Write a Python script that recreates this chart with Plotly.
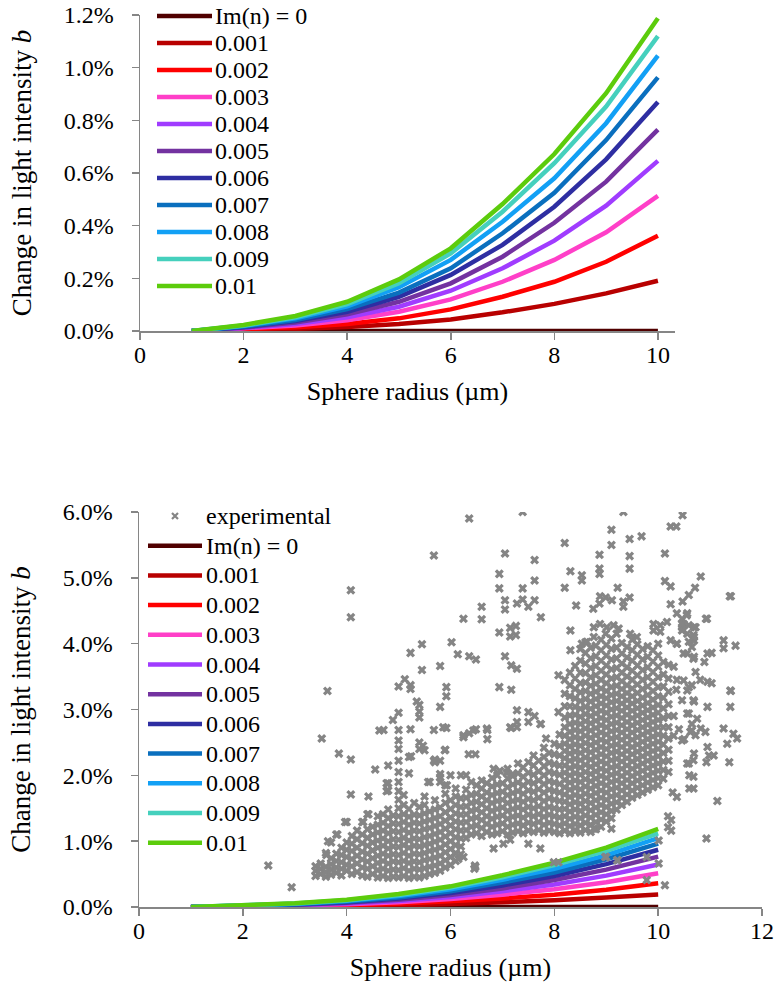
import plotly.graph_objects as go

# ---------------- data ----------------
radius = [1, 2, 3, 4, 5, 6, 7, 8, 9, 10]
series_names = ["Im(n) = 0", "0.001", "0.002", "0.003", "0.004", "0.005",
                "0.006", "0.007", "0.008", "0.009", "0.01"]
series_colors = ["#500000", "#b80000", "#ff0000", "#ff3fc8", "#a03cff", "#7332a0",
                 "#2e2ea2", "#0a6fbe", "#12a0f5", "#45d0bd", "#5ccc0c"]
exp_name = "experimental"
exp_color = "#858585"

# change in light intensity b, in %
h_0 = [0.0, 0.0, 0.0, 0.0, 0.0, 0.0, 0.0, 0.0, 0.0, 0.0]
h_0001 = [0.0, 0.003, 0.008, 0.015, 0.027, 0.044, 0.071, 0.103, 0.143, 0.191]
h_0002 = [0.0, 0.006, 0.014, 0.027, 0.048, 0.082, 0.130, 0.187, 0.263, 0.362]
h_0003 = [0.0, 0.009, 0.021, 0.041, 0.073, 0.120, 0.187, 0.270, 0.375, 0.513]
h_0004 = [0.0, 0.011, 0.027, 0.052, 0.092, 0.153, 0.238, 0.343, 0.476, 0.646]
h_0005 = [0.0, 0.013, 0.032, 0.063, 0.111, 0.181, 0.282, 0.411, 0.567, 0.765]
h_0006 = [0.0, 0.015, 0.038, 0.073, 0.130, 0.213, 0.327, 0.472, 0.652, 0.870]
h_0007 = [0.0, 0.017, 0.042, 0.083, 0.146, 0.238, 0.371, 0.525, 0.725, 0.963]
h_0008 = [0.0, 0.020, 0.048, 0.094, 0.166, 0.270, 0.415, 0.580, 0.789, 1.046]
h_0009 = [0.0, 0.021, 0.052, 0.102, 0.181, 0.295, 0.453, 0.637, 0.852, 1.120]
h_001 = [0.0, 0.023, 0.057, 0.111, 0.196, 0.314, 0.482, 0.672, 0.903, 1.188]
series_values = [h_0, h_0001, h_0002, h_0003, h_0004, h_0005,
                 h_0006, h_0007, h_0008, h_0009, h_001]

# experimental points (radius um, b in %)
exp_left_cols = [
    (3.4, [0.47, 0.55, 0.62]),
    (3.5, [0.50, 0.58, 0.66]),
    (3.6, [0.46, 0.53, 0.61, 0.82]),
    (3.7, [0.49, 0.57, 0.65, 0.74, 0.98]),
    (3.8, [0.52, 0.60, 0.70, 0.81, 1.10]),
    (3.9, [0.48, 0.58, 0.68, 0.79, 0.90]),
    (4.0, [0.55, 0.64, 0.76, 0.87, 0.98, 1.29]),
    (4.1, [0.50, 0.62, 0.73, 0.85, 0.96, 1.08]),
    (4.2, [0.53, 0.66, 0.78, 0.90, 1.03, 1.16]),
    (4.3, [0.48, 0.60, 0.72, 0.84, 0.97, 1.10, 1.29]),
    (4.4, [0.46, 0.58, 0.69, 0.81, 0.93, 1.05, 1.18, 1.41]),
    (4.5, [0.50, 0.62, 0.74, 0.86, 0.98, 1.10, 1.22]),
    (4.6, [0.45, 0.56, 0.67, 0.78, 0.90, 1.01, 1.13, 1.25, 1.38]),
    (4.7, [0.47, 0.58, 0.70, 0.81, 0.93, 1.04, 1.16, 1.28, 1.41]),
    (4.8, [0.44, 0.55, 0.66, 0.78, 0.89, 1.00, 1.12, 1.23, 1.35, 1.48, 1.77, 1.88, 2.15]),
    (4.9, [0.46, 0.57, 0.69, 0.80, 0.92, 1.03, 1.15, 1.27, 1.39]),
    (5.0, [0.45, 0.56, 0.68, 0.79, 0.91, 1.02, 1.14, 1.26, 1.38, 1.50, 1.63, 1.76,
           1.90, 2.05, 2.22, 2.40, 2.53, 2.69, 2.95]),
    (5.1, [0.47, 0.59, 0.70, 0.82, 0.94, 1.05, 1.17, 1.29, 1.41, 1.55, 1.70]),
    (5.2, [0.44, 0.55, 0.67, 0.78, 0.90, 1.01, 1.13, 1.25, 1.37, 1.49, 2.03, 2.28]),
    (5.3, [0.46, 0.58, 0.69, 0.81, 0.93, 1.04, 1.16, 1.28, 1.40, 1.58]),
    (5.4, [0.45, 0.57, 0.68, 0.80, 0.92, 1.03, 1.15, 1.27, 1.39, 1.52, 2.40, 2.50,
           2.88, 2.97, 3.07]),
    (5.5, [0.47, 0.59, 0.71, 0.82, 0.94, 1.06, 1.18, 1.30, 1.42, 1.55, 1.68, 2.38]),
    (5.6, [0.50, 0.61, 0.73, 0.85, 0.96, 1.08, 1.20, 1.32, 1.45, 1.90]),
    (5.7, [0.52, 0.63, 0.75, 0.87, 0.99, 1.11, 1.23, 1.35, 1.48, 1.62, 2.20, 2.24]),
    (5.8, [0.55, 0.66, 0.78, 0.90, 1.02, 1.14, 1.26, 1.38, 1.51, 1.90, 2.02, 2.22]),
    (5.9, [0.60, 0.71, 0.83, 0.95, 1.07, 1.19, 1.31, 1.44, 1.58, 1.72, 1.85, 2.39]),
    (6.0, [0.64, 0.76, 0.88, 1.00, 1.12, 1.24, 1.36, 1.49, 1.62, 2.00]),
    (6.1, [0.70, 0.82, 0.94, 1.06, 1.18, 1.30, 1.42, 1.55, 1.68, 1.80]),
    (6.2, [0.80, 0.92, 1.04, 1.16, 1.28, 1.40, 1.52, 1.65, 2.00]),
    (6.3, [1.05, 1.17, 1.29, 1.41, 1.53, 1.66, 1.78, 2.00]),
    (6.4, [1.10, 1.22, 1.34, 1.46, 1.58, 1.70, 1.90]),
]

exp_band_cols = [
    (6.5, [1.12, 1.24, 1.36, 1.48, 1.60, 1.72, 1.85]),
    (6.6, [1.08, 1.20, 1.32, 1.44, 1.56, 1.68, 1.80, 1.92]),
    (6.7, [1.14, 1.26, 1.38, 1.50, 1.62, 1.74, 1.88]),
    (6.8, [1.10, 1.22, 1.34, 1.46, 1.58, 1.70, 1.83, 1.96]),
    (6.9, [1.12, 1.25, 1.37, 1.49, 1.61, 1.73, 1.86, 2.00]),
    (7.0, [1.15, 1.27, 1.39, 1.51, 1.63, 1.75, 1.88]),
    (7.1, [1.10, 1.22, 1.34, 1.46, 1.58, 1.70, 1.82, 1.95, 2.10]),
    (7.2, [1.13, 1.25, 1.37, 1.49, 1.61, 1.73, 1.86, 1.99]),
    (7.3, [1.15, 1.27, 1.39, 1.51, 1.63, 1.76, 1.89, 2.03, 2.18]),
    (7.4, [1.12, 1.24, 1.36, 1.48, 1.60, 1.72, 1.85, 1.98, 2.12]),
    (7.5, [1.16, 1.28, 1.40, 1.52, 1.64, 1.77, 1.90, 2.04, 2.20]),
    (7.6, [1.14, 1.26, 1.38, 1.50, 1.62, 1.75, 1.88, 2.01, 2.15, 2.30]),
    (7.7, [1.17, 1.29, 1.41, 1.53, 1.66, 1.79, 1.92, 2.06, 2.22]),
    (7.8, [1.13, 1.25, 1.37, 1.49, 1.61, 1.74, 1.87, 2.00, 2.14, 2.28, 2.42]),
    (7.9, [1.16, 1.28, 1.40, 1.52, 1.65, 1.78, 1.91, 2.05, 2.19, 2.34]),
    (8.0, [1.14, 1.26, 1.38, 1.50, 1.63, 1.76, 1.89, 2.03, 2.17, 2.32, 2.48]),
    (8.1, [1.12, 1.24, 1.36, 1.48, 1.61, 1.74, 1.87, 2.01, 2.15, 2.30, 2.45, 2.62]),
]

exp_right_cols = [
    (8.2, [1.16, 1.27, 1.38, 1.49, 1.60, 1.71, 1.82, 1.93, 2.04, 2.15, 2.26, 2.37, 2.48,
           2.60, 2.73, 2.88, 3.05, 3.24, 3.45]),
    (8.3, [1.12, 1.23, 1.34, 1.45, 1.56, 1.67, 1.78, 1.89, 2.00, 2.11, 2.22, 2.33, 2.44,
           2.55, 2.66, 2.78, 2.91, 3.05, 3.20, 3.37, 3.56]),
    (8.4, [1.15, 1.26, 1.37, 1.48, 1.59, 1.70, 1.81, 1.92, 2.03, 2.14, 2.25, 2.36, 2.47,
           2.58, 2.69, 2.80, 2.92, 3.04, 3.17, 3.31, 3.47, 3.66]),
    (8.5, [1.13, 1.24, 1.35, 1.46, 1.57, 1.68, 1.79, 1.90, 2.01, 2.12, 2.23, 2.34, 2.45,
           2.56, 2.67, 2.78, 2.89, 3.01, 3.13, 3.26, 3.40, 3.56, 3.74, 3.92]),
    (8.6, [1.17, 1.28, 1.39, 1.50, 1.61, 1.72, 1.83, 1.94, 2.05, 2.16, 2.27, 2.38, 2.49,
           2.60, 2.71, 2.82, 2.93, 3.04, 3.16, 3.28, 3.41, 3.55, 3.70, 3.86, 4.02]),
    (8.7, [1.14, 1.25, 1.36, 1.47, 1.58, 1.69, 1.80, 1.91, 2.02, 2.13, 2.24, 2.35, 2.46,
           2.57, 2.68, 2.79, 2.90, 3.01, 3.12, 3.24, 3.36, 3.49, 3.63, 3.78, 3.94]),
    (8.8, [1.18, 1.29, 1.40, 1.51, 1.62, 1.73, 1.84, 1.95, 2.06, 2.17, 2.28, 2.39, 2.50,
           2.61, 2.72, 2.83, 2.94, 3.05, 3.16, 3.27, 3.39, 3.52, 3.66, 3.81, 3.97]),
    (8.9, [1.22, 1.33, 1.44, 1.55, 1.66, 1.77, 1.88, 1.99, 2.10, 2.21, 2.32, 2.43, 2.54,
           2.65, 2.76, 2.87, 2.98, 3.09, 3.20, 3.32, 3.45, 3.59, 3.74, 3.90, 4.06]),
    (9.0, [1.30, 1.41, 1.52, 1.63, 1.74, 1.85, 1.96, 2.07, 2.18, 2.29, 2.40, 2.51, 2.62,
           2.73, 2.84, 2.95, 3.06, 3.17, 3.28, 3.40, 3.53, 3.67, 3.82, 3.98]),
    (9.1, [1.35, 1.46, 1.57, 1.68, 1.79, 1.90, 2.01, 2.12, 2.23, 2.34, 2.45, 2.56, 2.67,
           2.78, 2.89, 3.00, 3.11, 3.22, 3.34, 3.47, 3.61, 3.76, 3.92, 4.08]),
    (9.2, [1.48, 1.59, 1.70, 1.81, 1.92, 2.03, 2.14, 2.25, 2.36, 2.47, 2.58, 2.69, 2.80,
           2.91, 3.02, 3.13, 3.24, 3.36, 3.49, 3.63, 3.78, 3.94]),
    (9.3, [1.55, 1.66, 1.77, 1.88, 1.99, 2.10, 2.21, 2.32, 2.43, 2.54, 2.65, 2.76, 2.87,
           2.98, 3.09, 3.20, 3.31, 3.43, 3.56, 3.70, 3.85, 4.01]),
    (9.4, [1.60, 1.71, 1.82, 1.93, 2.04, 2.15, 2.26, 2.37, 2.48, 2.59, 2.70, 2.81, 2.92,
           3.03, 3.14, 3.25, 3.37, 3.50, 3.64, 3.79, 3.95]),
    (9.5, [1.66, 1.77, 1.88, 1.99, 2.10, 2.21, 2.32, 2.43, 2.54, 2.65, 2.76, 2.87, 2.98,
           3.09, 3.20, 3.32, 3.45, 3.59, 3.74, 3.90, 4.06]),
    (9.6, [1.70, 1.81, 1.92, 2.03, 2.14, 2.25, 2.36, 2.47, 2.58, 2.69, 2.80, 2.91, 3.02,
           3.13, 3.25, 3.38, 3.52, 3.67, 3.83, 3.99]),
    (9.7, [1.74, 1.85, 1.96, 2.07, 2.18, 2.29, 2.40, 2.51, 2.62, 2.73, 2.84, 2.95, 3.06,
           3.18, 3.31, 3.45, 3.60, 3.76, 3.92]),
    (9.8, [1.78, 1.89, 2.00, 2.11, 2.22, 2.33, 2.44, 2.55, 2.66, 2.77, 2.88, 2.99, 3.10,
           3.22, 3.35, 3.49, 3.64, 3.80, 3.96]),
    (9.9, [1.82, 1.93, 2.04, 2.15, 2.26, 2.37, 2.48, 2.59, 2.70, 2.81, 2.92, 3.03, 3.15,
           3.28, 3.42, 3.57, 3.73, 3.90]),
    (10.0, [1.85, 1.96, 2.07, 2.18, 2.29, 2.40, 2.51, 2.62, 2.73, 2.84, 2.95, 3.07, 3.20,
            3.34, 3.49, 3.65, 3.82, 4.00]),
    (10.1, [1.95, 2.08, 2.21, 2.34, 2.47, 2.60, 2.73, 2.87, 3.02, 3.18, 3.35, 3.53, 3.72]),
    (10.2, [2.05, 2.22, 2.39, 2.56, 2.73, 2.90, 3.08, 3.27, 3.47, 3.68]),
]

exp_sparse_pts = [
    (4.08, 4.81), (4.08, 4.40), (3.63, 3.28), (3.52, 2.56), (3.85, 2.33), (4.08, 2.24),
    (4.08, 1.71), (4.42, 1.68), (4.55, 2.09), (4.63, 2.68), (2.49, 0.63), (2.94, 0.30),
    (3.97, 1.29), (4.32, 1.29), (4.42, 1.41), (3.64, 1.00), (3.82, 1.10), (4.77, 1.88),
    (4.77, 1.76), (5.24, 2.29), (5.47, 2.45), (5.68, 2.22), (5.80, 1.97), (5.57, 1.90),
    (5.93, 1.85), (6.35, 2.32), (6.48, 2.32), (6.46, 0.58), (3.61, 0.79), (6.25, 0.76),
    (6.15, 0.73), (6.47, 0.63),
    (6.36, 5.90), (7.39, 6.00), (5.68, 5.34), (7.05, 5.37), (7.62, 5.27), (6.94, 5.06),
    (6.94, 4.84), (7.39, 4.84), (7.62, 4.96), (6.60, 4.56), (7.05, 4.66), (7.05, 4.52),
    (7.28, 4.61), (7.39, 4.67), (7.50, 4.56), (7.62, 4.66), (6.25, 4.38), (6.60, 4.37),
    (7.74, 4.40), (8.20, 5.53), (8.20, 4.85), (8.31, 5.10), (8.42, 4.58), (6.94, 4.17),
    (7.15, 4.24), (7.26, 4.27), (7.15, 4.11), (7.26, 4.13), (8.31, 4.20), (8.31, 3.90),
    (5.45, 3.99), (6.02, 4.02), (5.23, 3.86), (6.14, 3.84), (6.36, 3.81), (6.49, 3.76),
    (5.80, 3.66), (5.45, 3.60), (7.05, 3.81), (7.17, 3.67), (7.28, 3.62), (5.12, 3.46),
    (5.00, 3.35), (5.23, 3.37), (5.23, 3.31), (5.92, 3.34), (5.92, 3.20), (6.94, 3.34),
    (7.17, 3.30), (5.35, 3.12), (5.80, 3.04), (4.89, 2.84), (4.71, 2.69), (5.23, 2.70),
    (5.68, 2.69), (5.92, 2.72), (6.25, 2.58), (6.36, 2.64), (6.49, 2.70), (6.71, 2.69),
    (6.71, 2.55), (7.28, 2.99), (7.50, 2.96), (7.62, 2.90), (7.28, 2.81), (7.28, 2.73),
    (7.50, 2.81), (7.74, 2.78), (7.17, 2.72), (7.84, 2.56), (8.08, 2.96), (8.08, 3.52),
    (5.89, 2.38), (5.86, 2.73), (6.25, 2.61), (6.44, 2.68), (6.70, 2.71), (7.15, 2.73),
    (7.73, 2.78), (6.83, 2.10), (6.95, 2.07), (7.08, 2.04), (7.20, 2.02),
    (7.02, 0.96), (7.50, 0.96), (6.83, 0.89), (7.73, 0.89), (6.48, 0.61), (7.99, 0.68),
    (8.08, 0.68), (8.98, 0.76), (9.21, 0.71), (7.15, 1.02),
    (9.00, 0.76), (9.22, 0.71), (9.78, 0.76), (10.01, 1.01), (10.01, 0.66), (9.78, 0.41),
    (10.13, 0.33), (10.25, 1.32), (10.25, 1.16), (10.93, 1.04), (11.14, 1.61), (9.10, 1.19),
    (8.76, 1.19), (8.40, 1.17), (10.19, 1.38), (10.19, 1.21), (10.28, 1.74), (10.60, 2.00),
    (10.60, 1.80),
    (10.36, 4.46), (10.56, 4.46), (10.72, 4.25), (10.49, 4.30), (10.68, 4.13), (10.65, 3.95),
    (10.56, 3.85), (10.68, 3.77), (10.72, 3.57), (10.36, 3.45), (10.81, 3.45), (10.65, 3.37),
    (10.56, 3.29), (10.68, 3.14), (10.75, 2.86), (10.56, 2.94), (10.65, 2.78), (10.62, 2.66),
    (10.72, 2.61), (10.68, 2.23), (10.59, 2.18), (10.68, 1.98), (10.68, 1.80), (10.36, 1.67),
    (10.82, 2.71), (10.91, 2.66), (11.26, 2.71), (11.45, 2.63), (11.52, 2.56), (11.33, 2.48),
    (10.95, 3.04), (10.95, 2.43), (10.98, 2.30), (11.07, 2.30), (11.39, 3.04), (11.39, 3.29),
    (10.95, 3.42), (10.95, 3.85), (10.89, 3.72), (11.26, 4.05), (11.26, 3.93), (11.49, 3.97),
    (10.94, 4.38), (10.93, 2.20), (11.37, 2.20), (11.38, 4.72), (11.03, 3.40), (11.40, 3.28),
    (11.03, 3.86), (10.46, 4.25), (10.56, 4.15), (10.69, 4.05), (10.36, 4.00), (10.49, 3.85),
    (10.69, 3.80), (10.30, 3.65), (10.49, 3.44), (10.59, 3.34), (10.46, 3.14), (10.69, 3.12),
    (10.59, 2.94), (10.65, 2.68), (10.46, 2.53), (10.69, 2.33), (10.56, 2.18), (10.30, 2.60),
    (10.40, 2.70), (10.50, 2.55), (10.30, 2.90), (10.35, 3.30),
    (9.33, 6.00), (10.47, 5.95), (10.24, 5.78), (10.35, 5.78), (9.10, 5.73), (9.45, 5.59),
    (9.68, 5.63), (9.10, 5.50), (8.87, 5.35), (9.45, 5.33), (10.13, 5.37), (8.53, 5.04),
    (8.53, 4.96), (8.87, 5.14), (8.87, 5.06), (9.45, 5.14), (10.82, 5.02), (9.22, 4.85),
    (10.13, 4.95), (10.24, 4.87), (10.71, 4.85), (11.40, 4.72), (8.88, 4.72), (8.99, 4.70),
    (9.11, 4.66), (9.33, 4.64), (9.45, 4.70), (9.33, 4.56), (8.75, 4.53), (8.87, 4.61),
    (10.24, 4.60), (10.47, 4.64), (10.59, 4.74), (10.92, 4.38),
    (8.76, 4.25), (8.88, 4.30), (9.01, 4.25), (9.14, 4.28), (9.24, 4.23), (8.99, 4.15),
    (9.20, 4.15), (8.53, 4.00), (8.63, 4.03), (8.76, 4.10), (9.46, 4.15), (9.59, 4.10),
    (9.91, 4.30), (10.04, 4.28), (10.17, 4.33), (9.91, 4.20), (10.04, 4.18), (10.46, 4.38),
    (10.55, 4.43), (10.46, 4.30), (10.59, 4.28), (10.69, 4.25), (10.46, 4.20), (10.69, 4.10),
    (10.59, 4.03), (10.24, 4.05), (10.36, 4.00),
]

# ---------------- build ----------------
def flatten(cols):
    xs, ys = [], []
    for xv, ylist in cols:
        xs.extend([xv] * len(ylist))
        ys.extend(ylist)
    return xs, ys

exp_x, exp_y = [], []
for cols in (exp_left_cols, exp_band_cols, exp_right_cols):
    cx, cy = flatten(cols)
    exp_x += cx
    exp_y += cy
exp_x += [p[0] for p in exp_sparse_pts]
exp_y += [p[1] for p in exp_sparse_pts]

W, H = 777, 991
FONT = "Liberation Serif, Times New Roman, serif"
AX = "#868686"
TICK_SIZE = 24
LEG_SIZE = 24

fig = go.Figure()

for name, color, vals in zip(series_names, series_colors, series_values):
    fig.add_trace(go.Scatter(x=radius, y=vals, mode="lines", name=name,
                             line=dict(color=color, width=4.5),
                             xaxis="x", yaxis="y", showlegend=False,
                             hoverinfo="skip"))
for name, color, vals in zip(series_names, series_colors, series_values):
    fig.add_trace(go.Scatter(x=radius, y=vals, mode="lines", name=name,
                             line=dict(color=color, width=4.5),
                             xaxis="x2", yaxis="y2", showlegend=False,
                             hoverinfo="skip"))
fig.add_trace(go.Scatter(x=exp_x, y=exp_y, mode="markers", name=exp_name,
                         marker=dict(symbol="x", size=8, color=exp_color,
                                     line=dict(width=0)),
                         xaxis="x2", yaxis="y2", showlegend=False,
                         hoverinfo="skip"))

axis_common = dict(showline=True, linecolor=AX, linewidth=1.5, ticks="outside",
                   ticklen=7, tickcolor=AX, tickwidth=1.5, showgrid=False,
                   zeroline=False, ticklabeloverflow="allow",
                   tickfont=dict(family=FONT, size=TICK_SIZE, color="black"),
                   automargin=False, fixedrange=True)

xtitle = dict(text="Sphere radius (\u00b5m)", standoff=14,
              font=dict(family=FONT, size=26))
ytitle = dict(text="Change in light intensity <i>b</i>", standoff=24,
              font=dict(family=FONT, size=27))

# ---------------- legends (drawn in paper space, one row per series) ----------------
shapes, annotations = [], []

def px(xp):
    return xp / W

def py(yp):
    return 1 - yp / H

def add_legend(entries, x_line0, x_line1, x_text, y_first, step):
    for i, (label, color, kind) in enumerate(entries):
        yc = y_first + i * step
        if kind == "line":
            shapes.append(dict(type="line", xref="paper", yref="paper",
                               x0=px(x_line0), x1=px(x_line1), y0=py(yc), y1=py(yc),
                               line=dict(color=color, width=4.5)))
        else:
            xm = (x_line0 + x_line1) / 2
            d = 3
            path = (f"M{px(xm - d)},{py(yc - d)} L{px(xm + d)},{py(yc + d)} "
                    f"M{px(xm - d)},{py(yc + d)} L{px(xm + d)},{py(yc - d)}")
            shapes.append(dict(type="path", xref="paper", yref="paper", path=path,
                               line=dict(color=color, width=2.2)))
        annotations.append(dict(text=label, xref="paper", yref="paper",
                                x=px(x_text), y=py(yc), xanchor="left",
                                yanchor="middle", showarrow=False,
                                font=dict(family=FONT, size=LEG_SIZE, color="black")))

line_entries = [(n, c, "line") for n, c in zip(series_names, series_colors)]
add_legend(line_entries, 157, 212, 213, 16, 27.0)
add_legend([(exp_name, exp_color, "marker")] + line_entries, 148, 202, 204, 516, 29.7)

fig.update_layout(
    width=W, height=H,
    margin=dict(l=0, r=0, t=0, b=0),
    paper_bgcolor="white", plot_bgcolor="white",
    font=dict(family=FONT, size=22, color="black"),
    showlegend=False,
    shapes=shapes,
    annotations=annotations,
    xaxis=dict(domain=[140 / W, 675 / W], range=[0, 10.33], tick0=0, dtick=2,
               anchor="y", title=xtitle, ticklabelstandoff=-5, **axis_common),
    yaxis=dict(domain=[1 - 331 / H, 1 - 15 / H], range=[0, 1.2], tick0=0, dtick=0.2,
               tickformat=".1f", ticksuffix="%", anchor="x", ticklabelstandoff=13,
               title=ytitle, **axis_common),
    xaxis2=dict(domain=[139 / W, 762 / W], range=[0, 12], tick0=0, dtick=2,
                anchor="y2", title=xtitle, ticklabelstandoff=-5, **axis_common),
    yaxis2=dict(domain=[1 - 907 / H, 1 - 512 / H], range=[0, 6], tick0=0, dtick=1,
                tickformat=".1f", ticksuffix="%", anchor="x2", ticklabelstandoff=13,
                title=ytitle, **axis_common),
)

fig.write_html("out.html",
               config={"displayModeBar": False, "staticPlot": True},
               post_script="document.body.style.margin='0';"
                           "document.body.style.overflow='hidden';")
